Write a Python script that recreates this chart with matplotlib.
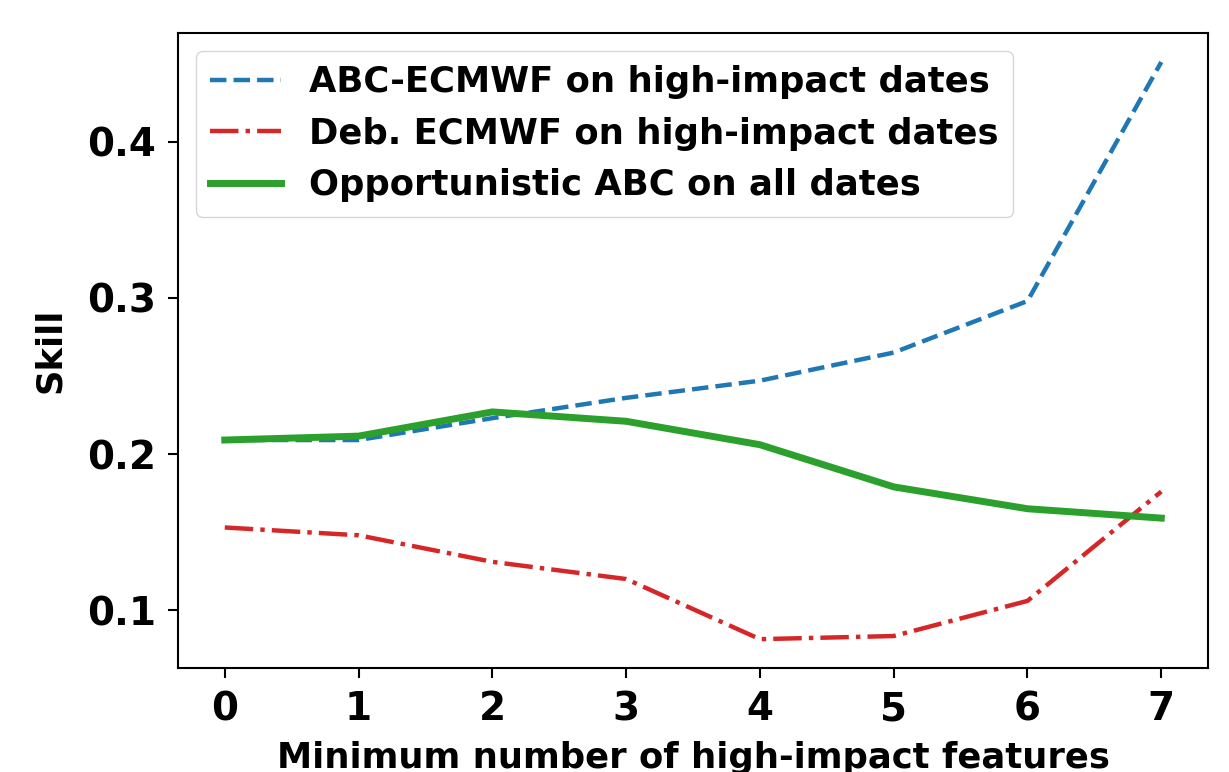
import numpy as np
import matplotlib
matplotlib.use("Agg")
import matplotlib.pyplot as plt

min_features = [0, 1, 2, 3, 4, 5, 6, 7]
abc_ecmwf_high = [0.209, 0.209, 0.223, 0.236, 0.247, 0.265, 0.298, 0.451]
deb_ecmwf_high = [0.153, 0.148, 0.131, 0.120, 0.0815, 0.0835, 0.106, 0.176]
opp_abc_all = [0.209, 0.2115, 0.227, 0.221, 0.206, 0.179, 0.165, 0.159]

labels = [
    "ABC-ECMWF on high-impact dates",
    "Deb. ECMWF on high-impact dates",
    "Opportunistic ABC on all dates",
]


def main():
    fig = plt.figure(figsize=(12.29, 7.72), dpi=100)
    ax = fig.add_axes([0.1448, 0.1347, 0.983 - 0.1448, 0.957 - 0.1347])

    ax.plot(min_features, abc_ecmwf_high, "--", color="tab:blue", lw=3.2, label=labels[0])
    ax.plot(min_features, deb_ecmwf_high, "-.", color="tab:red", lw=3.2, label=labels[1])
    ax.plot(min_features, opp_abc_all, "-", color="tab:green", lw=5.0, label=labels[2])

    ax.set_xticks(min_features)
    ax.set_yticks([0.1, 0.2, 0.3, 0.4])
    ax.set_yticklabels(["0.1", "0.2", "0.3", "0.4"])
    ax.tick_params(labelsize=28, length=7, width=1.5, pad=9)
    for t in ax.get_xticklabels() + ax.get_yticklabels():
        t.set_fontweight("bold")
    for s in ax.spines.values():
        s.set_linewidth(1.5)

    ax.set_xlabel("Minimum number of high-impact features", fontsize=25.5, fontweight="bold", labelpad=9)
    ax.set_ylabel("Skill", fontsize=25.5, fontweight="bold", labelpad=14)

    ax.legend(loc="upper left", prop={"size": 25.5, "weight": "bold"})

    fig.savefig("out.png", dpi=100)
    plt.close(fig)


if __name__ == "__main__":
    main()
